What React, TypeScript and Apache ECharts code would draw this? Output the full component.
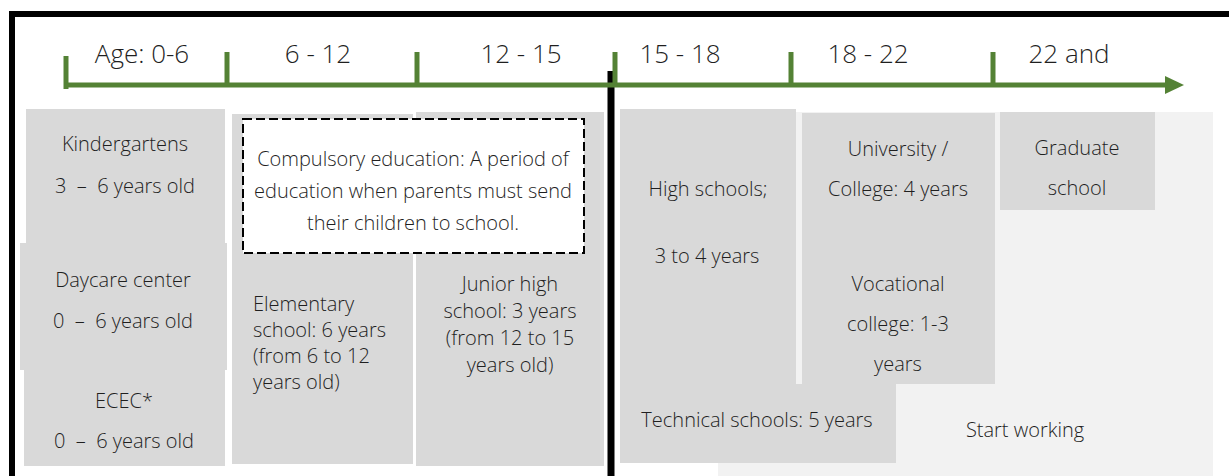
import React, { useEffect, useRef } from "react";
import * as echarts from "echarts";

// ---- data (texts) ----
const ageLabels: string[] = ["Age: 0-6", "6 - 12", "12 - 15", "15 - 18", "18 - 22", "22 and"];
const preschoolTexts: string[] = [
  "Kindergartens\n3  –  6 years old",
  "Daycare center\n0  –  6 years old",
  "ECEC*\n0  –  6 years old",
];
const compulsoryNote: string = "Compulsory education: A period of\neducation when parents must send\ntheir children to school.";
const elementaryText: string = "Elementary\nschool: 6 years\n(from 6 to 12\nyears old)";
const juniorHighText: string = "Junior high\nschool: 3 years\n(from 12 to 15\nyears old)";
const highSchoolTexts: string[] = ["High schools;", "3 to 4 years"];
const technicalText: string = "Technical schools: 5 years";
const universityText: string = "University /\nCollege: 4 years";
const vocationalText: string = "Vocational\ncollege: 1-3\nyears";
const graduateText: string = "Graduate\nschool";
const workText: string = "Start working";

// ---- layout ----
const tickX = [66, 227, 417, 615, 791, 993];
const labelX = [142, 318, 521, 680, 868, 1069];

const FONT = "'Open Sans', 'Noto Sans', sans-serif";
const TXT = "#1f1f1f";
const GRAY = "#d9d9d9";
const LIGHT = "#f2f2f2";
const GREEN = "#548235";
const BODY = 20;

function rect(x: number, y: number, w: number, h: number, fill: string, extra: any = {}) {
  return { type: "rect", shape: { x, y, width: w, height: h }, style: { fill, ...extra } };
}
function txt(text: string, x: number, y: number, size: number, lh: number, align = "center") {
  return {
    type: "text",
    x,
    y,
    style: {
      text,
      fill: TXT,
      fontFamily: FONT,
      fontSize: size,
      fontWeight: 300,
      lineHeight: lh,
      align,
      verticalAlign: "middle",
    },
  };
}

export default function App() {
  const ref = useRef<HTMLDivElement>(null);
  useEffect(() => {
    const chart = echarts.init(ref.current!, null, { renderer: "svg" });
    const els: any[] = [];
    // background light area
    els.push(rect(718, 112, 495, 364, LIGHT));
    // preschool boxes
    els.push(rect(26, 109, 199, 136, GRAY));
    els.push(rect(20, 243, 207, 127, GRAY));
    els.push(rect(24, 370, 201, 96, GRAY));
    // elementary / junior high
    els.push(rect(232, 114, 181, 350, GRAY));
    els.push(rect(416, 112, 188, 354, GRAY));
    // high school / technical
    els.push(rect(620, 109, 176, 354, GRAY));
    els.push(rect(620, 384, 276, 79, GRAY));
    // university / graduate
    els.push(rect(802, 113, 193, 271, GRAY));
    els.push(rect(1000, 112, 155, 98, GRAY));
    // dashed box
    els.push(rect(243, 119, 341, 134, "#ffffff", { stroke: "#000", lineWidth: 2, lineDash: [9, 4] }));

    // frame
    els.push({ type: "line", shape: { x1: 9, y1: 14, x2: 1229, y2: 14 }, style: { stroke: "#000", lineWidth: 6 } });
    els.push({ type: "line", shape: { x1: 12, y1: 11, x2: 12, y2: 476 }, style: { stroke: "#000", lineWidth: 6 } });
    // divider
    els.push({ type: "line", shape: { x1: 611, y1: 71, x2: 611, y2: 476 }, style: { stroke: "#000", lineWidth: 7 } });

    // green timeline
    els.push({ type: "line", shape: { x1: 64, y1: 85, x2: 1168, y2: 85 }, style: { stroke: GREEN, lineWidth: 5 } });
    els.push({ type: "polygon", shape: { points: [[1165, 76], [1184, 85], [1165, 94]] }, style: { fill: GREEN } });
    tickX.forEach((x, i) => {
      els.push({
        type: "line",
        shape: { x1: x, y1: i === 0 ? 56 : 52, x2: x, y2: i === 0 ? 89 : 86 },
        style: { stroke: GREEN, lineWidth: 5 },
      });
    });
    ageLabels.forEach((l, i) => els.push(txt(l, labelX[i], 53, 26, 30)));

    // texts
    els.push(txt(preschoolTexts[0], 125, 164, BODY, 42));
    els.push(txt(preschoolTexts[1], 123, 299.5, BODY, 41));
    els.push(txt(preschoolTexts[2], 124, 420.5, BODY, 40));
    els.push(txt(compulsoryNote, 413, 190, BODY, 32));
    els.push(txt(elementaryText, 253, 342, BODY, 26, "left"));
    els.push(txt(juniorHighText, 510, 324, BODY, 26.7));
    els.push(txt(highSchoolTexts[0], 708, 188, BODY, 22));
    els.push(txt(highSchoolTexts[1], 707, 255, BODY, 22));
    els.push(txt(technicalText, 757, 419, BODY, 22));
    els.push(txt(universityText, 898, 168, BODY, 40));
    els.push(txt(vocationalText, 898, 323, BODY, 40));
    els.push(txt(graduateText, 1077, 167.5, BODY, 40));
    els.push(txt(workText, 1025, 429, BODY, 22));

    chart.setOption({ animation: false, graphic: { elements: els } });
    return () => chart.dispose();
  }, []);
  return (
    <div
      ref={ref}
      style={{ position: "fixed", left: 0, top: 0, width: 1229, height: 476, background: "#fff" }}
    />
  );
}
